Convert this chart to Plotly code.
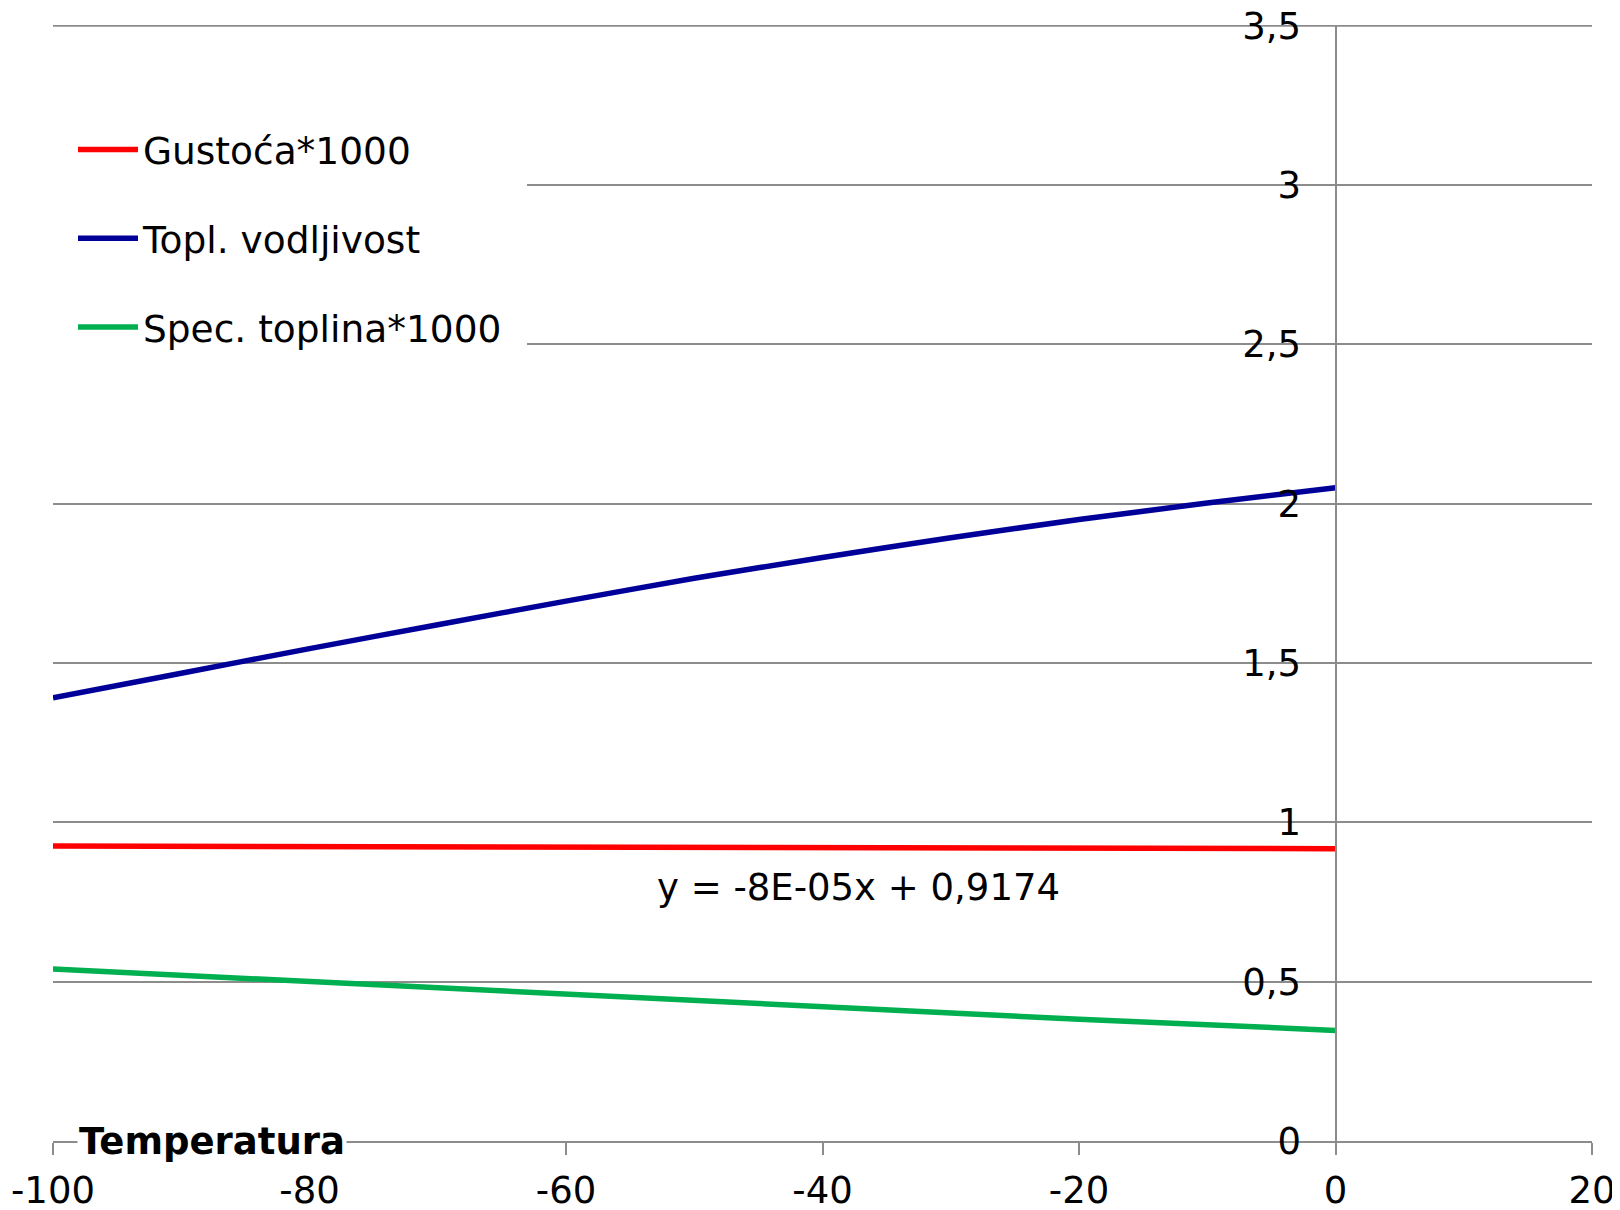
import plotly.graph_objects as go

temperatura = [-100, -90, -80, -70, -60, -50, -40, -30, -20, -10, 0]
gustoca = [0.9254, 0.9246, 0.9238, 0.9230, 0.9222, 0.9214, 0.9206, 0.9198, 0.9190, 0.9182, 0.9174]
vodljivost = [1.391, 1.468, 1.545, 1.620, 1.694, 1.766, 1.831, 1.893, 1.950, 2.002, 2.050]
toplina = [0.540, 0.520, 0.500, 0.480, 0.460, 0.440, 0.420, 0.399, 0.382, 0.365, 0.347]

y_ticks = [0, 0.5, 1, 1.5, 2, 2.5, 3, 3.5]
x_ticks = [-100, -80, -60, -40, -20, 0, 20]
x_labels = ["-100", "-80", "-60", "-40", "-20", "0", "20"]

FONT = "Verdana, DejaVu Sans, sans-serif"
GRID = "#8c8c8c"

fig = go.Figure()
fig.add_trace(go.Scatter(x=temperatura, y=gustoca, mode="lines", name="Gustoća*1000",
                         line=dict(color="#ff0000", width=5.5), legendgroup="a"))
fig.add_trace(go.Scatter(x=temperatura, y=vodljivost, mode="lines", name="Topl. vodljivost",
                         line=dict(color="#000099", width=5.5, shape="spline", smoothing=0.6),
                         legendgroup="b"))
fig.add_trace(go.Scatter(x=temperatura, y=toplina, mode="lines", name="Spec. toplina*1000",
                         line=dict(color="#00b050", width=5.5), legendgroup="c"))

# top gridline at 3,5 sits on the plot edge, plotly skips it
fig.add_shape(type="line", xref="paper", yref="y", x0=0, x1=1, y0=3.5, y1=3.5,
              line=dict(color=GRID, width=2), layer="below")

fig.update_layout(
    width=1620,
    height=1210,
    plot_bgcolor="white",
    paper_bgcolor="white",
    separators=", ",
    font=dict(family=FONT, size=37, color="black"),
    margin=dict(l=45, r=36, t=17, b=77),
    showlegend=True,
    legend=dict(
        x=0, y=0.934, xanchor="left", yanchor="top",
        bgcolor="white",
        bordercolor="white",
        borderwidth=20,
        font=dict(size=37.5),
        tracegroupgap=37,
        itemwidth=60,
    ),
    xaxis=dict(
        range=[-100, 20],
        tickvals=x_ticks,
        ticktext=x_labels,
        automargin=False,
        showgrid=False,
        zeroline=False,
        showline=True,
        linecolor=GRID,
        linewidth=2,
        ticks="outside",
        ticklen=12,
        tickwidth=2,
        tickcolor=GRID,
        ticklabelstandoff=4,
        ticklabeloverflow="allow",
    ),
    yaxis=dict(
        range=[0, 3.502],
        tickvals=y_ticks,
        automargin=False,
        showgrid=True,
        gridcolor=GRID,
        gridwidth=2,
        zeroline=False,
        showline=True,
        linecolor=GRID,
        linewidth=2,
        anchor="free",
        position=100 / 120,
        ticks="",
        ticklabelstandoff=26,
        ticklabeloverflow="allow",
    ),
    annotations=[
        dict(x=-87.6, y=0, xref="x", yref="y", text="<b>Temperatura</b>",
             showarrow=False, bgcolor="white", xanchor="center", yanchor="middle",
             font=dict(size=37, family=FONT)),
        dict(x=-37.2, y=0.795, xref="x", yref="y", text="y = -8E-05x + 0,9174",
             showarrow=False, xanchor="center", yanchor="middle",
             font=dict(size=37, family=FONT)),
    ],
)

fig.write_html("out.html")
